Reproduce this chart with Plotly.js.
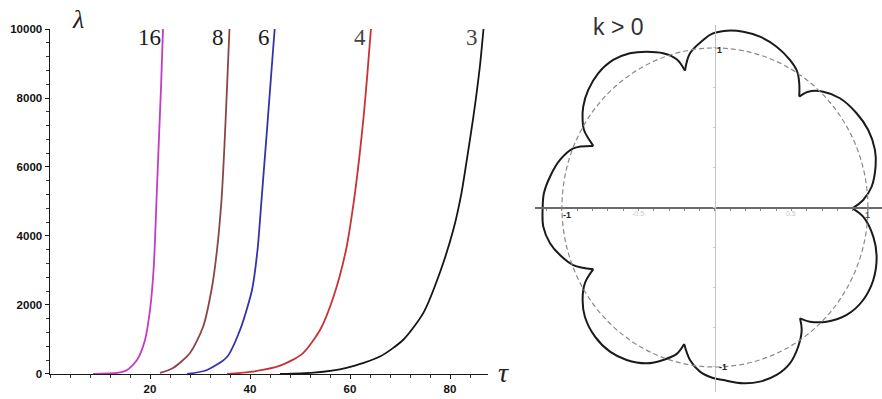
<!DOCTYPE html>
<html>
<head>
<meta charset="utf-8">
<script src="https://cdn.plot.ly/plotly-3.0.1.min.js"></script>
<style>
  html, body { margin: 0; padding: 0; background: #fff; }
  #chart { width: 882px; height: 399px; }
</style>
</head>
<body>
<div id="chart"></div>
<script>
// Growth-rate curves lambda(tau) for several mode numbers
const modeLabels = ['16', '8', '6', '4', '3'];
const modeColors = ['#c43cc4', '#8a4646', '#3434a8', '#c83232', '#151515'];

const tau16 = [8.6, 13.4, 15.4, 17.4, 19.0, 20.0, 20.75, 21.3, 21.75, 22.2, 22.6];
const lam16 = [0, 29, 116, 406, 986, 1855, 3101, 5043, 6700, 8300, 10000];

const tau8 = [22.0, 24.6, 28.0, 30.6, 32.4, 33.4, 34.3, 34.85, 35.4, 35.9];
const lam8 = [29, 174, 609, 1362, 2522, 3594, 5043, 6500, 8300, 10029];

const tau6 = [27.4, 31.4, 35.4, 38.0, 40.4, 41.5, 42.3, 43.35, 44.35, 44.95];
const lam6 = [0, 116, 493, 1275, 2435, 3594, 5043, 6986, 8899, 10029];

const tau4 = [35.4, 40.0, 46.0, 50.5, 54.0, 56.7, 59.2, 60.8, 61.8, 62.75, 63.5, 64.2];
const lam4 = [0, 58, 241, 590, 1275, 2241, 3594, 5043, 6200, 7500, 8750, 10029];

const tau3 = [46.0, 52.7, 59.3, 66.0, 70.7, 74.7, 78.0, 80.7, 82.3, 83.3, 84.7, 86.0, 86.7];
const lam3 = [0, 38, 180, 505, 1000, 1780, 2950, 4200, 5250, 6150, 7480, 8950, 10000];

const tauSeries = [tau16, tau8, tau6, tau4, tau3];
const lamSeries = [lam16, lam8, lam6, lam4, lam3];

const tauTicks = [20, 40, 60, 80];
const lamTicks = [0, 2000, 4000, 6000, 8000, 10000];
const lamTickText = ['0', '2000', '4000', '6000', '8000', '10000'];

// Seven-lobed boundary curve (k > 0) against the unit circle
const flowerU = [0.899, 0.969, 1.024, 1.050, 1.046, 1.002, 0.926, 0.817, 0.708, 0.610,
  0.551, 0.551, 0.538, 0.490, 0.403, 0.294, 0.185, 0.076, -0.020, -0.076, -0.163,
  -0.196, -0.250, -0.338, -0.446, -0.556, -0.665, -0.763, -0.828, -0.861, -0.865, -0.856,
  -0.795, -0.926, -1.013, -1.078, -1.118, -1.126, -1.122, -1.078, -1.013, -0.926,
  -0.795, -0.850, -0.865, -0.850, -0.784, -0.686, -0.577, -0.446, -0.338, -0.250,
  -0.201, -0.163, -0.098, -0.013, 0.054, 0.185, 0.294, 0.403, 0.490, 0.544, 0.567,
  0.556, 0.621, 0.730, 0.861, 0.969, 1.035, 1.057, 1.035, 0.969, 0.899];
const flowerV = [-0.005, 0.047, 0.130, 0.256, 0.361, 0.486, 0.591, 0.685, 0.726, 0.726,
  0.695, 0.779, 0.851, 0.925, 1.008, 1.071, 1.102, 1.108, 1.088, 1.050, 0.967,
  0.858, 0.929, 0.967, 0.977, 0.967, 0.925, 0.841, 0.737, 0.632, 0.549, 0.486,
  0.386, 0.371, 0.298, 0.193, 0.089, 0.000, -0.120, -0.224, -0.298, -0.361,
  -0.387, -0.475, -0.580, -0.685, -0.810, -0.904, -0.956, -0.977, -0.956, -0.918,
  -0.856, -0.956, -1.029, -1.069, -1.082, -1.102, -1.092, -1.050, -0.977, -0.873, -0.768,
  -0.695, -0.716, -0.716, -0.674, -0.580, -0.455, -0.308, -0.183, -0.058, -0.005];
const cuspIndex = [0, 10, 21, 32, 42, 52, 63, 72];

const traces = [];

tauSeries.forEach((t, i) => {
  traces.push({
    type: 'scatter', mode: 'lines',
    x: t, y: lamSeries[i],
    xaxis: 'x', yaxis: 'y',
    line: { color: modeColors[i], width: 1.8, shape: 'spline', smoothing: 0.7 },
    hoverinfo: 'skip', showlegend: false
  });
});

// each lobe runs from one cusp to the next, so cusps stay sharp
for (let k = 0; k < cuspIndex.length - 1; k++) {
  const a = cuspIndex[k], b = cuspIndex[k + 1];
  traces.push({
    type: 'scatter', mode: 'lines',
    x: flowerU.slice(a, b + 1), y: flowerV.slice(a, b + 1),
    xaxis: 'x2', yaxis: 'y2',
    line: { color: '#1a1a1a', width: 2, shape: 'spline', smoothing: 1 },
    hoverinfo: 'skip', showlegend: false
  });
}

const tickFont = { family: 'Liberation Sans, Arial, sans-serif', size: 11.5, color: '#111', weight: 700 };
const serif = 'Liberation Serif, Times New Roman, serif';
const sans = 'Liberation Sans, Arial, sans-serif';

const layout = {
  width: 882, height: 399,
  margin: { l: 0, r: 0, t: 0, b: 0 },
  paper_bgcolor: '#fff', plot_bgcolor: 'rgba(0,0,0,0)',
  showlegend: false,
  xaxis: {
    domain: [0.0567, 0.5533], range: [0, 87.6],
    showline: true, linecolor: '#1a1a1a', linewidth: 1.5,
    showgrid: false, zeroline: false,
    tickmode: 'array', tickvals: tauTicks,
    ticks: 'outside', ticklen: 4, tickcolor: '#1a1a1a', tickwidth: 1,
    minor: { tick0: 0, dtick: 4, ticks: 'outside', ticklen: 2.5, tickcolor: '#333' },
    tickfont: tickFont, anchor: 'y'
  },
  yaxis: {
    domain: [0.0627, 0.9273], range: [0, 10000],
    showline: true, linecolor: '#1a1a1a', linewidth: 1.5,
    showgrid: false, zeroline: false,
    tickmode: 'array', tickvals: lamTicks, ticktext: lamTickText,
    ticks: 'outside', ticklen: 4, tickcolor: '#1a1a1a', tickwidth: 1,
    minor: { tick0: 0, dtick: 400, ticks: 'outside', ticklen: 2.5, tickcolor: '#333' },
    tickfont: tickFont, anchor: 'x'
  },
  xaxis2: {
    domain: [0.6066, 1], range: [-1.176, 1.092],
    anchor: 'free', position: 0.48,
    showline: true, linecolor: '#6a6a6a', linewidth: 1.4,
    showgrid: false, zeroline: false, showticklabels: false,
    ticks: 'outside', tick0: 0, dtick: 0.1, ticklen: 2.5, tickcolor: '#8a8a8a'
  },
  yaxis2: {
    domain: [0.0175, 0.9373], range: [-1.157, 1.144],
    anchor: 'free', position: 0.8107,
    showline: true, linecolor: '#c4c4c4', linewidth: 1,
    showgrid: false, zeroline: false, showticklabels: false,
    ticks: 'outside', tick0: 0, dtick: 0.25, ticklen: 2, tickcolor: '#cccccc'
  },
  shapes: [
    {
      type: 'circle', xref: 'x2', yref: 'y2', x0: -1, x1: 1, y0: -1, y1: 1,
      line: { color: '#8a8a8a', width: 1.2, dash: '5px,3px' }
    }
  ],
  annotations: []
};

// labels at the top of each curve
const labelTau = [19.8, 33.6, 42.8, 62.0, 84.4];
modeLabels.forEach((lab, i) => {
  layout.annotations.push({
    xref: 'x', yref: 'y', x: labelTau[i], y: 9760,
    text: lab, showarrow: false, xanchor: 'center', yanchor: 'middle',
    font: { family: serif, size: 23, color: i < 3 ? '#1a1a1a' : '#444' }
  });
});

layout.annotations.push(
  { xref: 'paper', yref: 'paper', x: 78 / 882, y: 1 - 19 / 399, text: 'λ', showarrow: false,
    xanchor: 'center', yanchor: 'middle', font: { family: serif, size: 26, color: '#222', style: 'italic' } },
  { xref: 'paper', yref: 'paper', x: 503 / 882, y: 1 - 372 / 399, text: 'τ', showarrow: false,
    xanchor: 'center', yanchor: 'middle', font: { family: serif, size: 28, color: '#222', style: 'italic' } },
  { xref: 'paper', yref: 'paper', x: 618 / 882, y: 1 - 27 / 399, text: 'k > 0', showarrow: false,
    xanchor: 'center', yanchor: 'middle', font: { family: sans, size: 23, color: '#333' } },
  { xref: 'x2', yref: 'y2', x: 0.03, y: 0.99, text: '1', showarrow: false,
    xanchor: 'center', yanchor: 'middle', font: { family: sans, size: 9, color: '#222', weight: 700 } },
  { xref: 'x2', yref: 'y2', x: 0.05, y: -1.0, text: '-1', showarrow: false,
    xanchor: 'center', yanchor: 'middle', font: { family: sans, size: 9, color: '#222', weight: 700 } },
  { xref: 'x2', yref: 'y2', x: -0.97, y: -0.05, text: '-1', showarrow: false,
    xanchor: 'center', yanchor: 'middle', font: { family: sans, size: 9, color: '#222', weight: 700 } },
  { xref: 'x2', yref: 'y2', x: 1.0, y: -0.05, text: '1', showarrow: false,
    xanchor: 'center', yanchor: 'middle', font: { family: sans, size: 9, color: '#555', weight: 700 } },
  { xref: 'x2', yref: 'y2', x: -0.5, y: -0.035, text: '-0.5', showarrow: false,
    xanchor: 'center', yanchor: 'middle', font: { family: sans, size: 7, color: '#c8c8c8' } },
  { xref: 'x2', yref: 'y2', x: 0.5, y: -0.035, text: '0.5', showarrow: false,
    xanchor: 'center', yanchor: 'middle', font: { family: sans, size: 7, color: '#c8c8c8' } }
);

Plotly.newPlot('chart', traces, layout, { staticPlot: true, displayModeBar: false });
</script>
</body>
</html>
